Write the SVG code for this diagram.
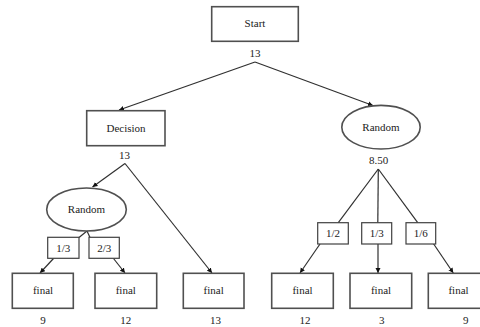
<svg xmlns="http://www.w3.org/2000/svg" width="480" height="327" viewBox="0 0 480 327">
<defs>
<style>
.box{fill:#fff;stroke:#505050;stroke-width:1.6}
.lbl{fill:#fff;stroke:#404040;stroke-width:1.2}
.edge{fill:none;stroke:#303030;stroke-width:1.2}
text{font-family:"Liberation Serif","Times New Roman",serif;font-size:11px;fill:#222;text-anchor:middle}
</style>
<marker id="ah" markerWidth="6" markerHeight="6" refX="5" refY="3" orient="auto" markerUnits="userSpaceOnUse">
<path d="M0,0.5 L5,3 L0,5.5 Z" fill="#111"/>
</marker>
</defs>
<rect width="480" height="327" fill="#fff"/>
<g id="connectors">
<line class="edge" x1="255" y1="62" x2="119" y2="110" marker-end="url(#ah)"/>
<line class="edge" x1="255" y1="62" x2="373" y2="105.5" marker-end="url(#ah)"/>
<line class="edge" x1="125" y1="163.5" x2="92.5" y2="187" marker-end="url(#ah)"/>
<line class="edge" x1="125" y1="163.5" x2="212" y2="273" marker-end="url(#ah)"/>
<line class="edge" x1="87" y1="231" x2="79" y2="237.5"/>
<line class="edge" x1="87" y1="231" x2="90" y2="237.5"/>
<line class="edge" x1="53.5" y1="258.5" x2="40" y2="273" marker-end="url(#ah)"/>
<line class="edge" x1="113.5" y1="258.5" x2="125" y2="273" marker-end="url(#ah)"/>
<line class="edge" x1="378.3" y1="169" x2="338.3" y2="222.7"/>
<line class="edge" x1="378.3" y1="169" x2="377.8" y2="222.7"/>
<line class="edge" x1="378.3" y1="169" x2="417.7" y2="222.7"/>
<line class="edge" x1="320" y1="244" x2="300" y2="273" marker-end="url(#ah)"/>
<line class="edge" x1="378" y1="244" x2="378" y2="273" marker-end="url(#ah)"/>
<line class="edge" x1="433" y1="243" x2="453.3" y2="273" marker-end="url(#ah)"/>
</g>
<g id="start">
<rect class="box" x="211.7" y="6.7" width="86.6" height="34.6"/>
<text x="255" y="26.5">Start</text>
<text x="255" y="57">13</text>
</g>
<g id="decision">
<rect class="box" x="86.7" y="110.7" width="78.3" height="35"/>
<text x="126" y="132">Decision</text>
<text x="124.5" y="159">13</text>
</g>
<g id="random-right">
<ellipse class="box" cx="381" cy="127.2" rx="39.2" ry="21.8"/>
<text x="381" y="131">Random</text>
<text x="378.5" y="164">8.50</text>
</g>
<g id="random-left">
<ellipse class="box" cx="86.5" cy="209.5" rx="39.8" ry="21.5"/>
<text x="86.5" y="213">Random</text>
</g>
<g id="p-left-1-3">
<rect class="lbl" x="47.7" y="237.3" width="31.3" height="21"/>
<text x="63.3" y="251.5">1/3</text>
</g>
<g id="p-left-2-3">
<rect class="lbl" x="89" y="237.3" width="30.3" height="21"/>
<text x="104.2" y="251.5">2/3</text>
</g>
<g id="p-right-1-2">
<rect class="lbl" x="317.7" y="222.7" width="30.6" height="21.3"/>
<text x="333" y="237">1/2</text>
</g>
<g id="p-right-1-3">
<rect class="lbl" x="361.7" y="222.7" width="30" height="21.3"/>
<text x="376.7" y="237">1/3</text>
</g>
<g id="p-right-1-6">
<rect class="lbl" x="406" y="222.7" width="29.7" height="21.3"/>
<text x="420.8" y="237">1/6</text>
</g>
<g id="final-1">
<rect class="box" x="12.3" y="273.3" width="61" height="35"/>
<text x="43" y="294">final</text>
<text x="43" y="324">9</text>
</g>
<g id="final-2">
<rect class="box" x="95" y="273.3" width="61.7" height="35"/>
<text x="125.8" y="294">final</text>
<text x="125.8" y="324">12</text>
</g>
<g id="final-3">
<rect class="box" x="183.3" y="273.3" width="60.7" height="35"/>
<text x="213.7" y="294">final</text>
<text x="215.5" y="324">13</text>
</g>
<g id="final-4">
<rect class="box" x="271.7" y="273.3" width="61.6" height="35"/>
<text x="302.5" y="294">final</text>
<text x="305" y="324">12</text>
</g>
<g id="final-5">
<rect class="box" x="350" y="273.3" width="61.7" height="35"/>
<text x="381" y="294">final</text>
<text x="381.7" y="324">3</text>
</g>
<g id="final-6">
<rect class="box" x="428.3" y="273.3" width="61.7" height="35"/>
<text x="458.5" y="294">final</text>
<text x="465.7" y="324">9</text>
</g>
</svg>
